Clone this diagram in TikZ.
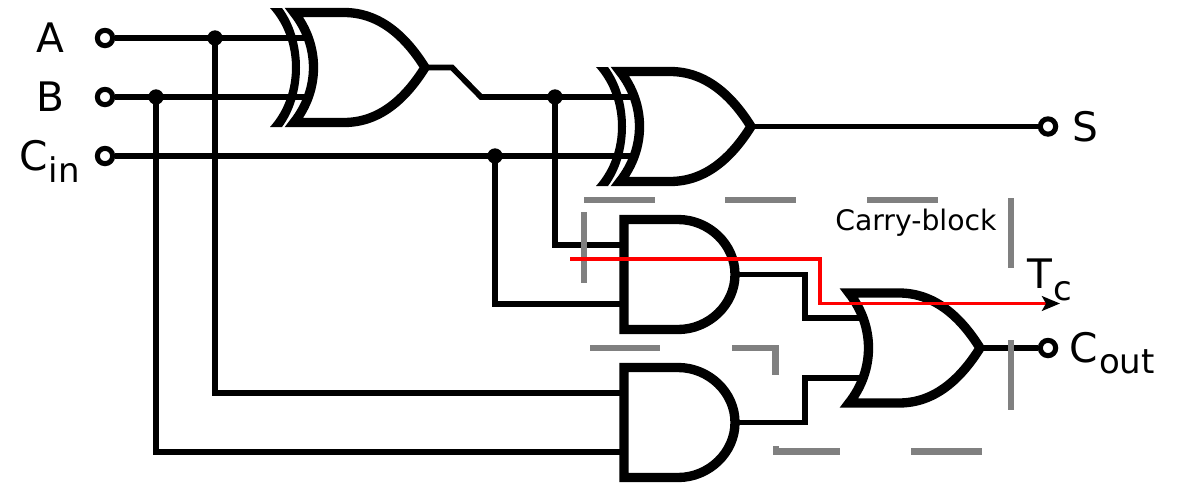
\documentclass[tikz,border=0pt]{standalone}
\usepackage{fontspec}
\setmainfont{DejaVu Sans}
\usetikzlibrary{arrows.meta}
\newcommand{\lowered}[2]{\kern1pt{\fontsize{25.5pt}{25.5pt}\selectfont\raisebox{#1}{#2}}}
\tikzset{
  x=0.75pt, y=-0.75pt,
  wire/.style={line width=4.3pt, line join=miter, miter limit=10},
  gatebody/.style={line width=7pt, line join=miter, miter limit=10},
  terminal/.style={circle, draw=black, fill=white, line width=3.8pt, minimum size=11.5pt, inner sep=0pt},
  junction/.style={circle, fill=black, minimum size=11.5pt, inner sep=0pt},
  bigtext/.style={anchor=base west, inner sep=0pt, font=\fontsize{30.5pt}{30.5pt}\selectfont},
  smalltext/.style={anchor=base west, inner sep=0pt, font=\fontsize{21.2pt}{22pt}\selectfont},
  dashbox/.style={draw=gray, line width=4.6pt, line join=miter},
  timing/.style={draw=red, line width=2.6pt, line join=miter},
  orgate/.pic={
    \draw[gatebody] (-131,-55) -- (-81,-55) .. controls (-46,-55) and (-20,-32) .. (0,0)
      .. controls (-20,32) and (-46,55) .. (-81,55) -- (-131,55)
      .. controls (-105,22) and (-105,-22) .. cycle;
    \coordinate (-a) at (-117,-30);
    \coordinate (-b) at (-117,30);
    \coordinate (-out) at (0,0);
  },
  xorgate/.pic={
    \draw[gatebody] (-131,-55) -- (-81,-55) .. controls (-46,-55) and (-20,-32) .. (0,0)
      .. controls (-20,32) and (-46,55) .. (-81,55) -- (-131,55)
      .. controls (-105,22) and (-105,-22) .. cycle;
    \fill (-155,-59.5) -- (-143,-59.5) .. controls (-119,-27) and (-119,27) .. (-143,59.5)
      -- (-155,59.5) .. controls (-125.7,27) and (-125.7,-27) .. cycle;
    \coordinate (-a) at (-119,-29.5);
    \coordinate (-b) at (-119,29.5);
    \coordinate (-out) at (0,0);
  },
  andgate/.pic={
    \draw[gatebody] (54,-55) -- (0,-55) -- (0,55) -- (54,55)
      .. controls (85,55) and (111,30) .. (111,0)
      .. controls (111,-30) and (85,-55) .. (54,-55) -- cycle;
    \coordinate (-a) at (0,-29.5);
    \coordinate (-b) at (0,29.5);
    \coordinate (-out) at (111,0);
  },
}
\begin{document}
\begin{tikzpicture}
\useasboundingbox (0,0) rectangle (1178,482);
% gates
\pic (xa) at (425,67.5) {xorgate};
\pic (xb) at (751,126.5) {xorgate};
\pic (na) at (624,274.5) {andgate};
\pic (nb) at (624,422.5) {andgate};
\pic (oa) at (980,348) {orgate};
% terminals and junctions
\node[terminal] (A) at (105,38) {};
\node[terminal] (B) at (105,97) {};
\node[terminal] (Cin) at (105,156) {};
\node[terminal] (S) at (1048,126.5) {};
\node[terminal] (Cout) at (1048,348) {};
\node[junction] (jA) at (215,38) {};
\node[junction] (jB) at (156,97) {};
\node[junction] (jX) at (555,97) {};
\node[junction] (jC) at (495,156) {};
\coordinate (k1) at (452,67.5);
\coordinate (k2) at (481,97);
\coordinate (m1) at (805,274.5);
\coordinate (m2) at (805,422.5);
% wires
\draw[wire] (A) -- (xa-a);
\draw[wire] (B) -- (xa-b);
\draw[wire] (Cin) -- (xb-b);
\draw[wire] (xa-out) -- (k1) -- (k2) -- (xb-a);
\draw[wire] (xb-out) -- (S);
\draw[wire] (jA.center) |- (nb-a);
\draw[wire] (jB.center) |- (nb-b);
\draw[wire] (jX.center) |- (na-a);
\draw[wire] (jC.center) |- (na-b);
\draw[wire] (na-out) -- (m1) |- (oa-a);
\draw[wire] (nb-out) -- (m2) |- (oa-b);
\draw[wire] (oa-out) -- (Cout);
% carry-block outline
\draw[dashbox] (584,200) -- (655,200);
\draw[dashbox] (725,200) -- (796,200);
\draw[dashbox] (867,200) -- (938,200);
\draw[dashbox] (1011,198) -- (1011,268);
\draw[dashbox] (1011,340) -- (1011,410);
\draw[dashbox] (584,212) -- (584,283);
\draw[dashbox] (590,348) -- (660,348);
\draw[dashbox] (732,348) -- (775.5,348) -- (775.5,375);
\draw[dashbox] (776,446) -- (776,451.5) -- (840,451.5);
\draw[dashbox] (911,451.5) -- (982,451.5);
% timing path
\coordinate (t0) at (570,259);
\coordinate (t1) at (820,259);
\coordinate (t2) at (820,303.5);
\coordinate (t3) at (1060,303.5);
\draw[timing, -{Stealth[length=13.5pt, width=11pt, inset=3pt, color=black]}] (t0) -- (t1) -- (t2) -- (t3);
% labels
\node[bigtext] (la) at (36,52) {A};
\node[bigtext] (lb) at (36,111) {B};
\node[bigtext] (lc) at (19,170) {C\lowered{-9pt}{in}};
\node[bigtext] (ls) at (1072,141) {S};
\node[bigtext] (lo) at (1069,362) {C\lowered{-8.5pt}{out}};
\node[bigtext] (lt) at (1027,288) {T\lowered{-9pt}{c}};
\node[smalltext] (lk) at (835,230) {Carry-block};
\end{tikzpicture}
\end{document}
